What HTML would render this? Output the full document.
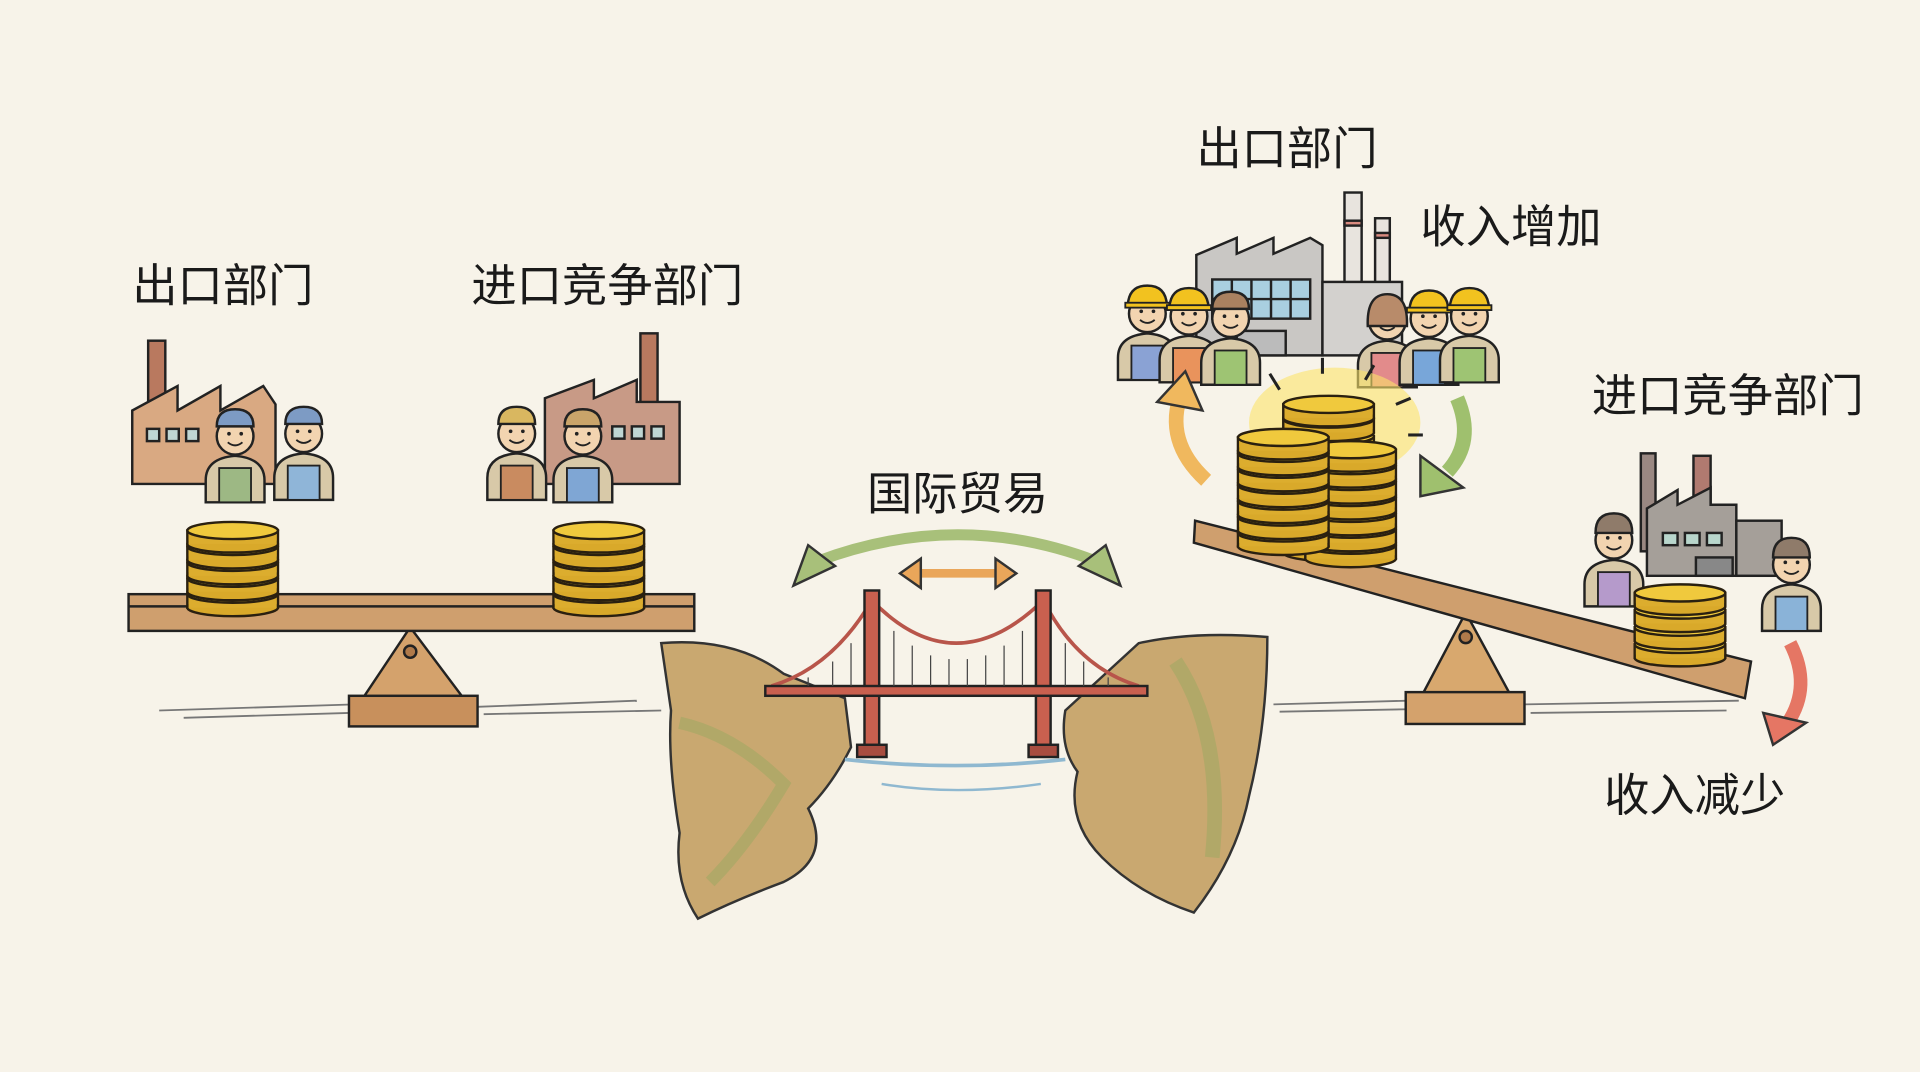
<!DOCTYPE html>
<html><head><meta charset="utf-8"><style>
html,body{margin:0;padding:0;background:#f7f3e9;}
svg{display:block}
text{font-family:"Liberation Sans","Noto Sans CJK SC",sans-serif;fill:#1a1a1a;}
</style></head><body>
<svg width="1920" height="1072" viewBox="0 0 1568 875" xmlns="http://www.w3.org/2000/svg">
<defs>
<g id="coinb"><rect x="-37" y="0" width="74" height="11" fill="#d9a92a" stroke="#2a2010" stroke-width="2"/><ellipse cx="0" cy="11" rx="37" ry="7" fill="#d9a92a" stroke="#2a2010" stroke-width="2"/><rect x="-36" y="0" width="72" height="11" fill="#dcad2e"/><ellipse cx="0" cy="0" rx="37" ry="7" fill="#f0c93d" stroke="#2a2010" stroke-width="2"/></g>
<g id="worker"><path d="M-24 40 Q-24 22 0 20 Q24 22 24 40 L24 58 L-24 58Z" fill="#d8c9a8" stroke="#222" stroke-width="2"/><rect x="-13" y="30" width="26" height="28" fill="currentColor" stroke="#222" stroke-width="1.5"/><circle cx="0" cy="4" r="15" fill="#f2d4b0" stroke="#222" stroke-width="2"/><path d="M-6 9 Q0 14 6 9" fill="none" stroke="#222" stroke-width="1.5"/><circle cx="-5" cy="2" r="1.5" fill="#222"/><circle cx="5" cy="2" r="1.5" fill="#222"/></g>
<g id="hat"><path d="M-16 -3 Q-15 -19 0 -19 Q15 -19 16 -3Z" fill="#f2c21f" stroke="#222" stroke-width="2"/><rect x="-18" y="-5" width="36" height="4" fill="#f2c21f" stroke="#222" stroke-width="1.5"/></g>
</defs>
<rect width="1568" height="875" fill="#f7f3e9"/>

<g stroke="#777" stroke-width="1.5">
<line x1="130" y1="580" x2="290" y2="575"/><line x1="150" y1="586" x2="285" y2="582"/><line x1="390" y1="577" x2="520" y2="572"/><line x1="395" y1="583" x2="540" y2="580"/>
<line x1="1040" y1="575" x2="1150" y2="572"/><line x1="1045" y1="581" x2="1150" y2="579"/><line x1="1245" y1="575" x2="1420" y2="572"/><line x1="1250" y1="582" x2="1410" y2="580"/>
</g>

<text x="108" y="246" font-size="37">出口部门</text>
<text x="385" y="246" font-size="37">进口竞争部门</text>
<text x="708" y="416" font-size="37">国际贸易</text>
<text x="977" y="134" font-size="37">出口部门</text>
<text x="1160" y="198" font-size="37">收入增加</text>
<text x="1300" y="336" font-size="37">进口竞争部门</text>
<text x="1310" y="662" font-size="37">收入减少</text>

<g stroke="#222" stroke-width="2">
<rect x="121" y="278" width="14" height="60" fill="#b9795f"/>
<path d="M108 395 L108 335 L145 315 L145 335 L180 315 L180 335 L215 315 L225 330 L225 395Z" fill="#d9a982"/>
<rect x="120" y="350" width="10" height="10" fill="#bfd6d3"/><rect x="136" y="350" width="10" height="10" fill="#bfd6d3"/><rect x="152" y="350" width="10" height="10" fill="#bfd6d3"/>
<rect x="523" y="272" width="14" height="60" fill="#b9795f"/>
<path d="M445 395 L445 325 L485 310 L485 325 L520 310 L520 328 L555 328 L555 395Z" fill="#c89a86"/>
<rect x="500" y="348" width="10" height="10" fill="#bfd6d3"/><rect x="516" y="348" width="10" height="10" fill="#bfd6d3"/><rect x="532" y="348" width="10" height="10" fill="#bfd6d3"/>
</g>
<g transform="translate(192,352)" color="#9db884"><use href="#worker"/><path d="M-15 -4 Q-15 -18 0 -18 Q15 -18 15 -4Z" fill="#7d9bc4" stroke="#222" stroke-width="2"/></g>
<g transform="translate(248,350)" color="#8fb5d8"><use href="#worker"/><path d="M-15 -4 Q-15 -18 0 -18 Q15 -18 15 -4Z" fill="#7d9bc4" stroke="#222" stroke-width="2"/></g>
<g transform="translate(422,350)" color="#c98b60"><use href="#worker"/><path d="M-15 -4 Q-15 -18 0 -18 Q15 -18 15 -4Z" fill="#d9b760" stroke="#222" stroke-width="2"/></g>
<g transform="translate(476,352)" color="#7fa6d4"><use href="#worker"/><path d="M-15 -4 Q-15 -18 0 -18 Q15 -18 15 -4Z" fill="#c9a46a" stroke="#222" stroke-width="2"/></g>

<g stroke="#222" stroke-width="2">
<path d="M335 512 L295 572 L380 572Z" fill="#d4a26c"/>
<circle cx="335" cy="532" r="5" fill="#b07a4a"/>
<rect x="285" y="568" width="105" height="25" fill="#c8905c"/>
<rect x="105" y="485" width="462" height="30" fill="#cf9f6e"/>
<line x1="105" y1="495" x2="567" y2="495"/>
</g>
<g transform="translate(190,430)"><use href="#coinb" y="55"/><use href="#coinb" y="42"/><use href="#coinb" y="29"/><use href="#coinb" y="16"/><use href="#coinb" y="3"/></g>
<g transform="translate(489,432)"><use href="#coinb" y="53"/><use href="#coinb" y="40"/><use href="#coinb" y="27"/><use href="#coinb" y="14"/><use href="#coinb" y="1"/></g>

<path d="M540 525 Q600 520 640 550 L690 570 L695 610 Q680 640 660 660 Q680 700 640 720 Q600 735 570 750 Q550 720 555 680 Q545 620 548 580Z" fill="#c9a870" stroke="#333" stroke-width="2"/>
<path d="M555 590 Q600 600 640 640 Q610 690 580 720" fill="none" stroke="#9aa860" stroke-width="10" opacity=".5"/>
<path d="M1035 520 Q975 515 930 525 L870 580 Q865 610 880 630 Q870 670 900 700 Q930 730 975 745 Q1010 700 1020 650 Q1035 590 1035 520Z" fill="#c9a870" stroke="#333" stroke-width="2"/>
<path d="M960 540 Q1000 600 990 700" fill="none" stroke="#9aa860" stroke-width="12" opacity=".5"/>
<path d="M690 620 Q780 630 870 620" fill="none" stroke="#8fb8d0" stroke-width="3"/>
<path d="M720 640 Q780 650 850 640" fill="none" stroke="#8fb8d0" stroke-width="2"/>
<g stroke="#222" stroke-width="2">
<path d="M630 560 Q680 545 712 490 Q780 560 852 490 Q880 545 930 560" fill="none" stroke="#b8554a" stroke-width="3"/>
<rect x="706" y="482" width="12" height="135" fill="#c9604f"/>
<rect x="846" y="482" width="12" height="135" fill="#c9604f"/>
<rect x="700" y="608" width="24" height="10" fill="#a84d40"/><rect x="840" y="608" width="24" height="10" fill="#a84d40"/>
<rect x="625" y="560" width="312" height="8" fill="#c9604f"/>
</g>
<g stroke="#444" stroke-width="1">
<line x1="730" y1="515" x2="730" y2="560"/><line x1="745" y1="527" x2="745" y2="560"/><line x1="760" y1="535" x2="760" y2="560"/><line x1="775" y1="538" x2="775" y2="560"/><line x1="790" y1="538" x2="790" y2="560"/><line x1="805" y1="535" x2="805" y2="560"/><line x1="820" y1="527" x2="820" y2="560"/><line x1="835" y1="515" x2="835" y2="560"/>
<line x1="660" y1="553" x2="660" y2="560"/><line x1="680" y1="540" x2="680" y2="560"/><line x1="695" y1="525" x2="695" y2="560"/><line x1="870" y1="525" x2="870" y2="560"/><line x1="885" y1="540" x2="885" y2="560"/><line x1="905" y1="553" x2="905" y2="560"/>
</g>
<path d="M668 458 Q783 415 895 458" fill="none" stroke="#a8c07a" stroke-width="9"/>
<path d="M648 478 L660 445 L682 462Z M915 478 L903 445 L881 462Z" fill="#a8c07a" stroke="#333" stroke-width="2"/>
<path d="M748 468 L815 468" stroke="#eaa65a" stroke-width="7"/>
<path d="M735 468 L752 456 L752 480Z M830 468 L813 456 L813 480Z" fill="#eaa65a" stroke="#333" stroke-width="2"/>

<g stroke="#222" stroke-width="2">
<rect x="1098" y="157" width="14" height="75" fill="#e8e4de"/><rect x="1098" y="180" width="14" height="4" fill="#d98b80"/>
<rect x="1123" y="178" width="12" height="55" fill="#e8e4de"/><rect x="1123" y="190" width="12" height="4" fill="#d98b80"/>
<path d="M977 290 L977 208 L1010 194 L1010 207 L1040 194 L1040 207 L1070 194 L1080 200 L1080 290Z" fill="#c9c7c4"/>
<rect x="1080" y="230" width="65" height="60" fill="#d3d1ce"/>
<rect x="990" y="228" width="80" height="32" fill="#a9cfe0"/>
<line x1="1006" y1="228" x2="1006" y2="260"/><line x1="1022" y1="228" x2="1022" y2="260"/><line x1="1038" y1="228" x2="1038" y2="260"/><line x1="1054" y1="228" x2="1054" y2="260"/><line x1="990" y1="244" x2="1070" y2="244"/>
<rect x="1010" y="270" width="40" height="20" fill="#bbb"/>
</g>
<g transform="translate(937,252)" color="#8aa2d4"><use href="#worker"/><use href="#hat"/></g>
<g transform="translate(971,254)" color="#e9935c"><use href="#worker"/><use href="#hat"/></g>
<g transform="translate(1005,256)" color="#9ec473"><use href="#worker"/><path d="M-15 -4 Q-15 -18 0 -18 Q15 -18 15 -4Z" fill="#a98160" stroke="#222" stroke-width="2"/></g>
<g transform="translate(1133,258)" color="#e28b8b"><use href="#worker"/><path d="M-16 8 Q-17 -18 0 -18 Q17 -18 16 8Z" fill="#b88b6a" stroke="#222" stroke-width="2"/></g>
<g transform="translate(1167,256)" color="#78a6d9"><use href="#worker"/><use href="#hat"/></g>
<g transform="translate(1200,254)" color="#9ec473"><use href="#worker"/><use href="#hat"/></g>

<path d="M985 392 Q950 360 965 320" fill="none" stroke="#f0b85e" stroke-width="12"/>
<path d="M945 328 L968 303 L982 335Z" fill="#f0b85e" stroke="#333" stroke-width="2"/>
<path d="M1190 325 Q1205 360 1182 385" fill="none" stroke="#9fc06e" stroke-width="12"/>
<path d="M1160 372 L1160 405 L1195 398Z" fill="#9fc06e" stroke="#333" stroke-width="2"/>
<path d="M1462 525 Q1480 560 1460 590" fill="none" stroke="#e57664" stroke-width="11"/>
<path d="M1440 582 L1448 608 L1475 590Z" fill="#e57664" stroke="#333" stroke-width="2"/>

<g stroke="#222" stroke-width="2">
<path d="M1197 500 L1160 570 L1235 570Z" fill="#d8a86e"/>
<circle cx="1197" cy="520" r="5" fill="#b07a4a"/>
<rect x="1148" y="565" width="97" height="26" fill="#d4a26c"/>
<path d="M976 425 L1430 540 L1425 570 L975 443Z" fill="#cf9f6e"/>
</g>
<ellipse cx="1090" cy="345" rx="70" ry="45" fill="#fbe46a" opacity=".6"/>
<g stroke="#222" stroke-width="2.5"><line x1="1045" y1="318" x2="1037" y2="305"/><line x1="1080" y1="305" x2="1080" y2="292"/><line x1="1115" y1="310" x2="1122" y2="298"/><line x1="1140" y1="330" x2="1152" y2="325"/><line x1="1150" y1="355" x2="1162" y2="355"/></g>
<g transform="translate(1085,330)"><use href="#coinb" y="110"/><use href="#coinb" y="96"/><use href="#coinb" y="82"/><use href="#coinb" y="68"/><use href="#coinb" y="54"/><use href="#coinb" y="40"/><use href="#coinb" y="26"/><use href="#coinb" y="12"/><use href="#coinb" y="0"/></g>
<g transform="translate(1103,360)"><use href="#coinb" y="85"/><use href="#coinb" y="72"/><use href="#coinb" y="59"/><use href="#coinb" y="46"/><use href="#coinb" y="33"/><use href="#coinb" y="20"/><use href="#coinb" y="7"/></g>
<g transform="translate(1048,360)"><use href="#coinb" y="75"/><use href="#coinb" y="62"/><use href="#coinb" y="49"/><use href="#coinb" y="36"/><use href="#coinb" y="23"/><use href="#coinb" y="10"/><use href="#coinb" y="-3"/></g>

<g stroke="#222" stroke-width="2">
<rect x="1340" y="370" width="12" height="80" fill="#9a8882"/>
<rect x="1383" y="372" width="14" height="40" fill="#b07a70"/>
<path d="M1345 470 L1345 415 L1370 400 L1370 412 L1397 398 L1397 412 L1418 412 L1418 470Z" fill="#a59f99"/>
<rect x="1418" y="425" width="37" height="45" fill="#a59f99"/>
<rect x="1358" y="435" width="12" height="10" fill="#b8d6cc"/><rect x="1376" y="435" width="12" height="10" fill="#b8d6cc"/><rect x="1394" y="435" width="12" height="10" fill="#b8d6cc"/>
<rect x="1385" y="455" width="30" height="15" fill="#888"/>
</g>
<g transform="translate(1318,437)" color="#b59acb"><use href="#worker"/><path d="M-15 -2 Q-15 -18 0 -18 Q15 -18 15 -2Z" fill="#8f7b6a" stroke="#222" stroke-width="2"/></g>
<g transform="translate(1463,457)" color="#8ab3d8"><use href="#worker"/><path d="M-15 -2 Q-15 -18 0 -18 Q15 -18 15 -2Z" fill="#8f7b6a" stroke="#222" stroke-width="2"/></g>
<g transform="translate(1372,484)"><use href="#coinb" y="42"/><use href="#coinb" y="28"/><use href="#coinb" y="14"/><use href="#coinb" y="0"/></g>
</svg>
</body></html>
